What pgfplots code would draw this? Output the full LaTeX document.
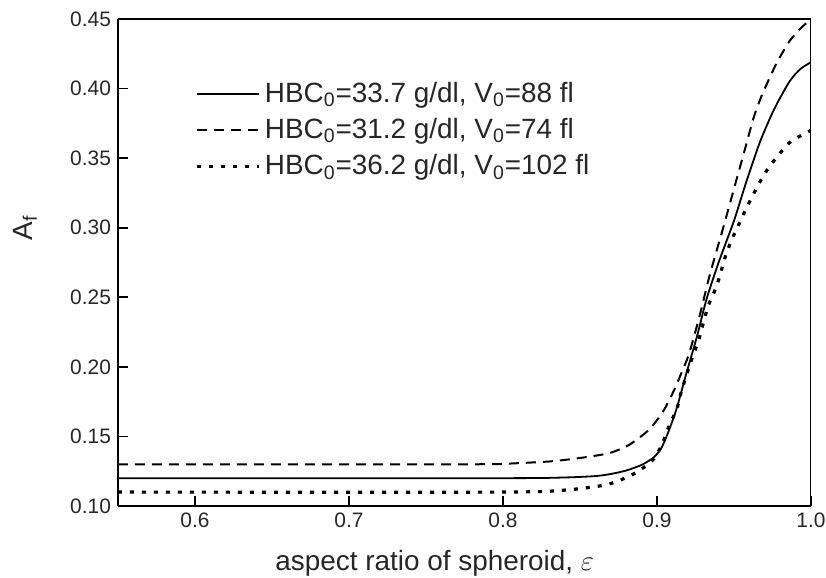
\documentclass[border=0pt]{standalone}
\usepackage{fontspec}
\setmainfont{Liberation Sans}
\usepackage{pgfplots}
\pgfplotsset{compat=1.18}

\begin{document}
\begin{tikzpicture}
% outer margins as in the reference (axis box lower left at origin)
\useasboundingbox (-59bp,-36bp) rectangle (354bp,253bp);
\begin{axis}[
    at={(0,0)}, anchor=south west,
    scale only axis,
    width=346.5bp,
    height=243.5bp,
    xmin=0.55, xmax=1.0,
    ymin=0.10, ymax=0.45,
    xtick={0.6,0.7,0.8,0.9,1.0},
    ytick={0.10,0.15,0.20,0.25,0.30,0.35,0.40,0.45},
    axis x line*=bottom, axis y line*=left,
    axis line style={line width=1bp, -},
    every outer x axis line/.append style={-},
    every outer y axis line/.append style={-},
    tick align=inside,
    major tick length=5bp,
    tick style={line width=0.9bp, black},
    xticklabel style={/pgf/number format/.cd, fixed, fixed zerofill, precision=1},
    yticklabel style={/pgf/number format/.cd, fixed, fixed zerofill, precision=2},
    /pgf/number format/assume math mode=true,
    tick label style={font=\fontsize{10.5}{12}\selectfont, text=black!85},
    xlabel={aspect ratio of spheroid, $\varepsilon$},
    ylabel={A\textsubscript{f}},
    label style={font=\fontsize{14}{16}\selectfont, text=black!85},
    xlabel style={at={(axis description cs:0.457,-0.117)}, anchor=center},
    ylabel style={at={(axis description cs:-0.134,0.571)}, anchor=center},
    legend style={draw=none, fill=none, at={(axis description cs:0.111,0.879)},
        anchor=north west, font=\fontsize{14}{16}\selectfont, text=black!85,
        row sep=2.5bp, inner sep=0pt},
    legend cell align=left,
    legend image code/.code={\draw[#1] (0cm,0cm) -- (1.1cm,0cm);},
    clip=true,
]

% solid: HBC0 = 33.7 g/dl, V0 = 88 fl
\addplot[black, line width=0.9bp, smooth, tension=0.4] coordinates {
    (0.55,0.120) (0.80,0.120) (0.84,0.1205) (0.86,0.1215) (0.87,0.1230)
    (0.88,0.1255) (0.89,0.1295) (0.898,0.135) (0.903,0.142) (0.908,0.155)
    (0.913,0.171) (0.919,0.195) (0.926,0.222) (0.932,0.248) (0.940,0.275)
    (0.950,0.305) (0.958,0.333) (0.967,0.362) (0.976,0.385) (0.986,0.405)
    (0.993,0.414) (1.0,0.419)
};
\addlegendentry{HBC\textsubscript{0}=33.7 g/dl, V\textsubscript{0}=88 fl}

% dashed: HBC0 = 31.2 g/dl, V0 = 74 fl
\addplot[black, line width=1bp, dash pattern=on 5bp off 3.5bp, smooth, tension=0.4] coordinates {
    (0.55,0.130) (0.78,0.130) (0.80,0.1303) (0.83,0.132) (0.85,0.1345)
    (0.869,0.138) (0.882,0.144) (0.895,0.155) (0.904,0.168) (0.911,0.183)
    (0.916,0.196) (0.921,0.210) (0.928,0.238) (0.934,0.265) (0.943,0.300)
    (0.950,0.328) (0.957,0.356) (0.963,0.380) (0.968,0.395) (0.972,0.405)
    (0.978,0.419) (0.986,0.434) (0.993,0.443) (1.0,0.450)
};
\addlegendentry{HBC\textsubscript{0}=31.2 g/dl, V\textsubscript{0}=74 fl}

% dotted: HBC0 = 36.2 g/dl, V0 = 102 fl
\addplot[black, line width=1.6bp, dash pattern=on 2bp off 4bp, smooth, tension=0.4] coordinates {
    (0.55,0.110) (0.80,0.110) (0.841,0.1115) (0.866,0.115) (0.877,0.119)
    (0.888,0.125) (0.898,0.134) (0.904,0.146) (0.908,0.158) (0.913,0.170)
    (0.916,0.183) (0.923,0.207) (0.927,0.219) (0.933,0.243) (0.938,0.256)
    (0.941,0.266) (0.944,0.278) (0.948,0.290) (0.953,0.302) (0.958,0.314)
    (0.964,0.327) (0.970,0.339) (0.978,0.351) (0.987,0.362) (1.0,0.370)
};
\addlegendentry{HBC\textsubscript{0}=36.2 g/dl, V\textsubscript{0}=102 fl}

% closing frame on top and right
\draw[line width=1bp] (rel axis cs:0,1) -- (rel axis cs:1,1) -- (rel axis cs:1,0);
\end{axis}
\end{tikzpicture}
\end{document}
